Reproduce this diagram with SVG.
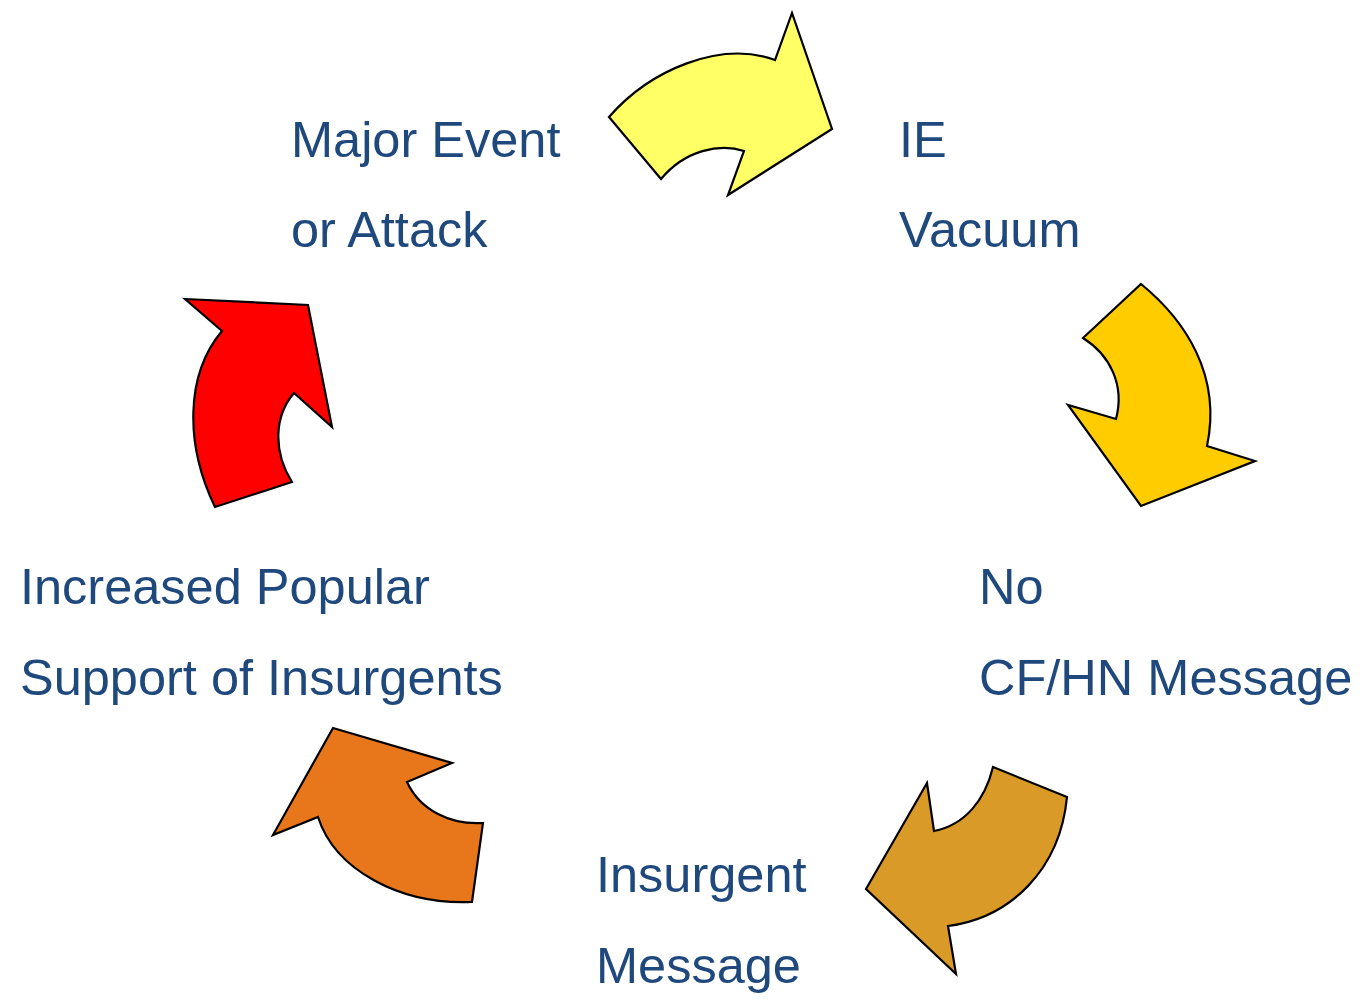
<svg xmlns="http://www.w3.org/2000/svg" width="1365" height="1003" viewBox="0 0 1365 1003">
<style>
.arrow{stroke:#000;stroke-width:2.2;stroke-linejoin:miter}
.lbl{font-family:"Liberation Sans",Arial,sans-serif;font-size:50.5px;fill:#1F497D}
</style>
<rect width="1365" height="1003" fill="#fff"/>
<g id="connectors">
<path id="arrow-yellow" class="arrow" fill="#FFFF66" d="M609,117 C650,70 720,40 775,60 L792,13 L832,129 L728,195 L744,151 C720,143 685,150 661,179 Z"/>
<path id="arrow-gold" class="arrow" fill="#FFCC00" d="M1141,284 C1185,320 1222,375 1207,446 L1255,461 L1141,506 L1068,405 L1116,419 C1125,385 1110,355 1083,338 Z"/>
<path id="arrow-ochre" class="arrow" fill="#DA9A28" d="M1067,797 L993,767 C985,800 965,825 934,831 L927,783 L866,889 L956,974 L948,926 C1010,918 1060,870 1067,797 Z"/>
<path id="arrow-orange" class="arrow" fill="#E8761A" d="M333,728 L452,763 L407,782 C420,810 450,825 483,823 L472,902 C400,905 335,870 318,817 L273,835 Z"/>
<path id="arrow-red" class="arrow" fill="#FF0000" d="M185,299 L308,305 L332,427 L294,393 C275,415 272,450 292,482 L215,507 C185,445 185,375 222,331 Z"/>
</g>
<g id="node-major-event">
<text class="lbl" x="291" y="157">Major Event</text>
<text class="lbl" x="291" y="247">or Attack</text>
</g>
<g id="node-ie-vacuum">
<text class="lbl" x="899" y="157">IE</text>
<text class="lbl" x="899" y="247">Vacuum</text>
</g>
<g id="node-no-message">
<text class="lbl" x="979" y="604">No</text>
<text class="lbl" x="979" y="695">CF/HN Message</text>
</g>
<g id="node-insurgent-message">
<text class="lbl" x="596" y="892">Insurgent</text>
<text class="lbl" x="596" y="983">Message</text>
</g>
<g id="node-popular-support">
<text class="lbl" x="20" y="604">Increased Popular</text>
<text class="lbl" x="20" y="695">Support of Insurgents</text>
</g>
</svg>
